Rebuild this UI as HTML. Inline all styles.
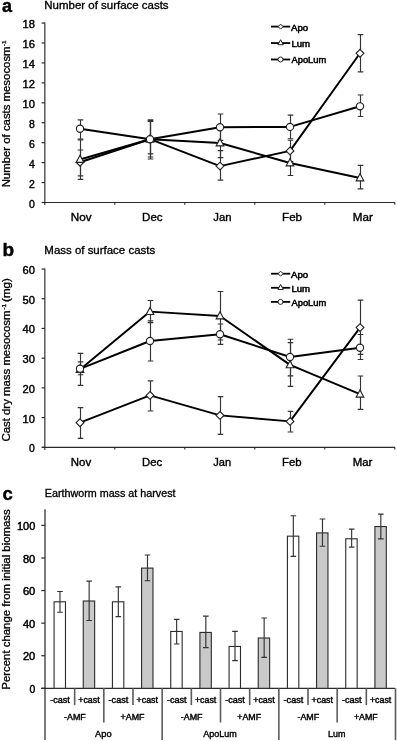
<!DOCTYPE html>
<html><head><meta charset="utf-8"><style>
html,body{margin:0;padding:0;background:#fff;width:397px;height:741px;overflow:hidden;}
body{position:relative;font-family:"Liberation Sans", sans-serif;}
</style></head><body>
<svg width="397" height="741" viewBox="0 0 397 741" style="position:absolute;left:0;top:0;filter:blur(0.3px);font-family:&quot;Liberation Sans&quot;, sans-serif"><rect width="397" height="741" fill="#fff"/><text x="1.9" y="11.8" font-size="18" font-weight="bold" stroke="#000" stroke-width="0.4">a</text><text x="44.35" y="8.80" font-size="10" textLength="124.20" lengthAdjust="spacingAndGlyphs" stroke="#000" stroke-width="0.3" >Number of surface casts</text><path d="M44.8 22.46V205.10" stroke="#505050" stroke-width="1.4" fill="none"/><path d="M42 202.50H395" stroke="#2a2a2a" stroke-width="1.2" fill="none"/><path d="M41.6 202.50H44.8" stroke="#2a2a2a" stroke-width="1.2"/><text x="29.10" y="207.50" font-size="10" textLength="5.80" lengthAdjust="spacingAndGlyphs" stroke="#000" stroke-width="0.4" >0</text><path d="M41.6 182.56H44.8" stroke="#2a2a2a" stroke-width="1.2"/><text x="29.10" y="187.56" font-size="10" textLength="5.80" lengthAdjust="spacingAndGlyphs" stroke="#000" stroke-width="0.4" >2</text><path d="M41.6 162.62H44.8" stroke="#2a2a2a" stroke-width="1.2"/><text x="29.10" y="167.62" font-size="10" textLength="5.80" lengthAdjust="spacingAndGlyphs" stroke="#000" stroke-width="0.4" >4</text><path d="M41.6 142.69H44.8" stroke="#2a2a2a" stroke-width="1.2"/><text x="29.10" y="147.69" font-size="10" textLength="5.80" lengthAdjust="spacingAndGlyphs" stroke="#000" stroke-width="0.4" >6</text><path d="M41.6 122.75H44.8" stroke="#2a2a2a" stroke-width="1.2"/><text x="29.10" y="127.75" font-size="10" textLength="5.80" lengthAdjust="spacingAndGlyphs" stroke="#000" stroke-width="0.4" >8</text><path d="M41.6 102.81H44.8" stroke="#2a2a2a" stroke-width="1.2"/><text x="22.50" y="107.81" font-size="10" textLength="12.40" lengthAdjust="spacingAndGlyphs" stroke="#000" stroke-width="0.4" >10</text><path d="M41.6 82.87H44.8" stroke="#2a2a2a" stroke-width="1.2"/><text x="22.50" y="87.87" font-size="10" textLength="12.40" lengthAdjust="spacingAndGlyphs" stroke="#000" stroke-width="0.4" >12</text><path d="M41.6 62.93H44.8" stroke="#2a2a2a" stroke-width="1.2"/><text x="22.50" y="67.93" font-size="10" textLength="12.40" lengthAdjust="spacingAndGlyphs" stroke="#000" stroke-width="0.4" >14</text><path d="M41.6 43.00H44.8" stroke="#2a2a2a" stroke-width="1.2"/><text x="22.50" y="48.00" font-size="10" textLength="12.40" lengthAdjust="spacingAndGlyphs" stroke="#000" stroke-width="0.4" >16</text><path d="M41.6 23.06H44.8" stroke="#2a2a2a" stroke-width="1.2"/><text x="22.50" y="28.06" font-size="10" textLength="12.40" lengthAdjust="spacingAndGlyphs" stroke="#000" stroke-width="0.4" >18</text><path d="M114.80 202.50V204.80" stroke="#2a2a2a" stroke-width="1.1"/><path d="M184.80 202.50V204.80" stroke="#2a2a2a" stroke-width="1.1"/><path d="M254.80 202.50V204.80" stroke="#2a2a2a" stroke-width="1.1"/><path d="M324.80 202.50V204.80" stroke="#2a2a2a" stroke-width="1.1"/><path d="M394.80 202.50V204.80" stroke="#2a2a2a" stroke-width="1.1"/><text x="70.77" y="220.60" font-size="10" textLength="20.75" lengthAdjust="spacingAndGlyphs" stroke="#000" stroke-width="0.35" >Nov</text><text x="142.08" y="220.60" font-size="10" textLength="20.45" lengthAdjust="spacingAndGlyphs" stroke="#000" stroke-width="0.35" >Dec</text><text x="213.28" y="220.60" font-size="10" textLength="18.25" lengthAdjust="spacingAndGlyphs" stroke="#000" stroke-width="0.35" >Jan</text><text x="282.08" y="220.60" font-size="10" textLength="19.95" lengthAdjust="spacingAndGlyphs" stroke="#000" stroke-width="0.35" >Feb</text><text x="352.78" y="220.60" font-size="10" textLength="20.05" lengthAdjust="spacingAndGlyphs" stroke="#000" stroke-width="0.35" >Mar</text><text transform="translate(10.00 187.35) rotate(-90)" x="0" y="0" font-size="10" textLength="140.90" lengthAdjust="spacingAndGlyphs" stroke="#000" stroke-width="0.3">Number of casts mesocosm</text><text transform="translate(5.7 46.2) rotate(-90)" font-size="6.2" textLength="5.6" lengthAdjust="spacingAndGlyphs" stroke="#000" stroke-width="0.3">-1</text><path d="M80.50 150.00V175.90M77.70 150.00H83.30M77.70 175.90H83.30" stroke="#333" stroke-width="1.15" fill="none"/><path d="M150.50 121.40V157.00M147.70 121.40H153.30M147.70 157.00H153.30" stroke="#333" stroke-width="1.15" fill="none"/><path d="M220.50 150.60V180.10M217.70 150.60H223.30M217.70 180.10H223.30" stroke="#333" stroke-width="1.15" fill="none"/><path d="M290.50 140.20V161.60M287.70 140.20H293.30M287.70 161.60H293.30" stroke="#333" stroke-width="1.15" fill="none"/><path d="M360.50 34.60V71.90M357.70 34.60H363.30M357.70 71.90H363.30" stroke="#333" stroke-width="1.15" fill="none"/><path d="M80.50 139.80V179.40M77.70 139.80H83.30M77.70 179.40H83.30" stroke="#333" stroke-width="1.15" fill="none"/><path d="M150.50 120.50V159.00M147.70 120.50H153.30M147.70 159.00H153.30" stroke="#333" stroke-width="1.15" fill="none"/><path d="M220.50 128.40V157.60M217.70 128.40H223.30M217.70 157.60H223.30" stroke="#333" stroke-width="1.15" fill="none"/><path d="M290.50 150.50V175.50M287.70 150.50H293.30M287.70 175.50H293.30" stroke="#333" stroke-width="1.15" fill="none"/><path d="M360.50 165.30V188.90M357.70 165.30H363.30M357.70 188.90H363.30" stroke="#333" stroke-width="1.15" fill="none"/><path d="M80.50 119.80V139.00M77.70 119.80H83.30M77.70 139.00H83.30" stroke="#333" stroke-width="1.15" fill="none"/><path d="M150.50 119.70V153.80M147.70 119.70H153.30M147.70 153.80H153.30" stroke="#333" stroke-width="1.15" fill="none"/><path d="M220.50 114.00V140.40M217.70 114.00H223.30M217.70 140.40H223.30" stroke="#333" stroke-width="1.15" fill="none"/><path d="M290.50 115.10V138.70M287.70 115.10H293.30M287.70 138.70H293.30" stroke="#333" stroke-width="1.15" fill="none"/><path d="M360.50 95.00V116.50M357.70 95.00H363.30M357.70 116.50H363.30" stroke="#333" stroke-width="1.15" fill="none"/><polyline points="80,162.2 150,139.2 220,166.1 290,150.9 360,53.3" fill="none" stroke="#000" stroke-width="1.95" stroke-linejoin="round"/><polyline points="80,159.5 150,139.2 220,143.0 290,163.0 360,178.0" fill="none" stroke="#000" stroke-width="1.95" stroke-linejoin="round"/><polyline points="80,128.7 150,139.2 220,127.2 290,126.9 360,106.3" fill="none" stroke="#000" stroke-width="1.95" stroke-linejoin="round"/><path d="M80.00 158.30L83.90 162.20L80.00 166.10L76.10 162.20Z" fill="#fff" stroke="#222" stroke-width="1.15"/><path d="M150.00 135.30L153.90 139.20L150.00 143.10L146.10 139.20Z" fill="#fff" stroke="#222" stroke-width="1.15"/><path d="M220.00 162.20L223.90 166.10L220.00 170.00L216.10 166.10Z" fill="#fff" stroke="#222" stroke-width="1.15"/><path d="M290.00 147.00L293.90 150.90L290.00 154.80L286.10 150.90Z" fill="#fff" stroke="#222" stroke-width="1.15"/><path d="M360.00 49.40L363.90 53.30L360.00 57.20L356.10 53.30Z" fill="#fff" stroke="#222" stroke-width="1.15"/><path d="M80.00 155.32L83.80 162.35L76.20 162.35Z" fill="#fff" stroke="#222" stroke-width="1.15"/><path d="M150.00 135.02L153.80 142.05L146.20 142.05Z" fill="#fff" stroke="#222" stroke-width="1.15"/><path d="M220.00 138.82L223.80 145.85L216.20 145.85Z" fill="#fff" stroke="#222" stroke-width="1.15"/><path d="M290.00 158.82L293.80 165.85L286.20 165.85Z" fill="#fff" stroke="#222" stroke-width="1.15"/><path d="M360.00 173.82L363.80 180.85L356.20 180.85Z" fill="#fff" stroke="#222" stroke-width="1.15"/><circle cx="80.00" cy="128.70" r="3.6" fill="#fff" stroke="#222" stroke-width="1.15"/><circle cx="150.00" cy="139.20" r="3.6" fill="#fff" stroke="#222" stroke-width="1.15"/><circle cx="220.00" cy="127.20" r="3.6" fill="#fff" stroke="#222" stroke-width="1.15"/><circle cx="290.00" cy="126.90" r="3.6" fill="#fff" stroke="#222" stroke-width="1.15"/><circle cx="360.00" cy="106.30" r="3.6" fill="#fff" stroke="#222" stroke-width="1.15"/><path d="M271 26.60H290.2" stroke="#000" stroke-width="1.8"/><path d="M280.60 24.10L283.10 26.60L280.60 29.10L278.10 26.60Z" fill="#fff" stroke="#222" stroke-width="1.0"/><text x="291.02" y="30.50" font-size="9" textLength="17.16" lengthAdjust="spacingAndGlyphs" stroke="#000" stroke-width="0.5" >Apo</text><path d="M271 43.05H290.2" stroke="#000" stroke-width="1.8"/><path d="M280.60 39.73L283.30 44.72L277.90 44.72Z" fill="#fff" stroke="#222" stroke-width="1.0"/><text x="291.42" y="46.95" font-size="9" textLength="18.66" lengthAdjust="spacingAndGlyphs" stroke="#000" stroke-width="0.5" >Lum</text><path d="M271 59.50H290.2" stroke="#000" stroke-width="1.8"/><circle cx="280.50" cy="59.50" r="2.5" fill="#fff" stroke="#222" stroke-width="1.0"/><text x="291.52" y="63.40" font-size="9" textLength="34.76" lengthAdjust="spacingAndGlyphs" stroke="#000" stroke-width="0.5" >ApoLum</text><text x="2.6" y="255.6" font-size="19" font-weight="bold" stroke="#000" stroke-width="0.4">b</text><text x="44.35" y="254.10" font-size="10" textLength="110.80" lengthAdjust="spacingAndGlyphs" stroke="#000" stroke-width="0.3" >Mass of surface casts</text><path d="M44.8 268.45V449.90" stroke="#505050" stroke-width="1.4" fill="none"/><path d="M42 447.30H395" stroke="#2a2a2a" stroke-width="1.2" fill="none"/><path d="M41.6 447.30H44.8" stroke="#2a2a2a" stroke-width="1.2"/><text x="29.10" y="452.30" font-size="10" textLength="5.80" lengthAdjust="spacingAndGlyphs" stroke="#000" stroke-width="0.4" >0</text><path d="M41.6 417.59H44.8" stroke="#2a2a2a" stroke-width="1.2"/><text x="22.50" y="422.59" font-size="10" textLength="12.40" lengthAdjust="spacingAndGlyphs" stroke="#000" stroke-width="0.4" >10</text><path d="M41.6 387.88H44.8" stroke="#2a2a2a" stroke-width="1.2"/><text x="22.50" y="392.88" font-size="10" textLength="12.40" lengthAdjust="spacingAndGlyphs" stroke="#000" stroke-width="0.4" >20</text><path d="M41.6 358.17H44.8" stroke="#2a2a2a" stroke-width="1.2"/><text x="22.50" y="363.17" font-size="10" textLength="12.40" lengthAdjust="spacingAndGlyphs" stroke="#000" stroke-width="0.4" >30</text><path d="M41.6 328.46H44.8" stroke="#2a2a2a" stroke-width="1.2"/><text x="22.50" y="333.46" font-size="10" textLength="12.40" lengthAdjust="spacingAndGlyphs" stroke="#000" stroke-width="0.4" >40</text><path d="M41.6 298.75H44.8" stroke="#2a2a2a" stroke-width="1.2"/><text x="22.50" y="303.75" font-size="10" textLength="12.40" lengthAdjust="spacingAndGlyphs" stroke="#000" stroke-width="0.4" >50</text><path d="M41.6 269.04H44.8" stroke="#2a2a2a" stroke-width="1.2"/><text x="22.50" y="274.04" font-size="10" textLength="12.40" lengthAdjust="spacingAndGlyphs" stroke="#000" stroke-width="0.4" >60</text><path d="M114.80 447.30V449.60" stroke="#2a2a2a" stroke-width="1.1"/><path d="M184.80 447.30V449.60" stroke="#2a2a2a" stroke-width="1.1"/><path d="M254.80 447.30V449.60" stroke="#2a2a2a" stroke-width="1.1"/><path d="M324.80 447.30V449.60" stroke="#2a2a2a" stroke-width="1.1"/><path d="M394.80 447.30V449.60" stroke="#2a2a2a" stroke-width="1.1"/><text x="70.77" y="466.00" font-size="10" textLength="20.35" lengthAdjust="spacingAndGlyphs" stroke="#000" stroke-width="0.35" >Nov</text><text x="142.08" y="466.00" font-size="10" textLength="20.05" lengthAdjust="spacingAndGlyphs" stroke="#000" stroke-width="0.35" >Dec</text><text x="213.28" y="466.00" font-size="10" textLength="17.85" lengthAdjust="spacingAndGlyphs" stroke="#000" stroke-width="0.35" >Jan</text><text x="282.08" y="466.00" font-size="10" textLength="19.55" lengthAdjust="spacingAndGlyphs" stroke="#000" stroke-width="0.35" >Feb</text><text x="352.78" y="466.00" font-size="10" textLength="19.65" lengthAdjust="spacingAndGlyphs" stroke="#000" stroke-width="0.35" >Mar</text><text transform="translate(10.10 441.55) rotate(-90)" x="0" y="0" font-size="10" textLength="131.00" lengthAdjust="spacingAndGlyphs" stroke="#000" stroke-width="0.3">Cast dry mass mesocosm</text><text transform="translate(5.7 309.7) rotate(-90)" font-size="6.2" textLength="5.8" lengthAdjust="spacingAndGlyphs" stroke="#000" stroke-width="0.3">-1</text><text transform="translate(10.10 301.95) rotate(-90)" x="0" y="0" font-size="10" textLength="23.80" lengthAdjust="spacingAndGlyphs" stroke="#000" stroke-width="0.3">(mg)</text><path d="M80.50 407.60V438.30M77.70 407.60H83.30M77.70 438.30H83.30" stroke="#333" stroke-width="1.15" fill="none"/><path d="M150.50 380.90V411.00M147.70 380.90H153.30M147.70 411.00H153.30" stroke="#333" stroke-width="1.15" fill="none"/><path d="M220.50 396.60V434.30M217.70 396.60H223.30M217.70 434.30H223.30" stroke="#333" stroke-width="1.15" fill="none"/><path d="M290.50 411.40V432.00M287.70 411.40H293.30M287.70 432.00H293.30" stroke="#333" stroke-width="1.15" fill="none"/><path d="M360.50 300.10V354.40M357.70 300.10H363.30M357.70 354.40H363.30" stroke="#333" stroke-width="1.15" fill="none"/><path d="M80.50 353.40V385.30M77.70 353.40H83.30M77.70 385.30H83.30" stroke="#333" stroke-width="1.15" fill="none"/><path d="M150.50 300.50V322.60M147.70 300.50H153.30M147.70 322.60H153.30" stroke="#333" stroke-width="1.15" fill="none"/><path d="M220.50 291.50V340.00M217.70 291.50H223.30M217.70 340.00H223.30" stroke="#333" stroke-width="1.15" fill="none"/><path d="M290.50 342.60V386.40M287.70 342.60H293.30M287.70 386.40H293.30" stroke="#333" stroke-width="1.15" fill="none"/><path d="M360.50 376.00V409.30M357.70 376.00H363.30M357.70 409.30H363.30" stroke="#333" stroke-width="1.15" fill="none"/><path d="M80.50 361.90V374.70M77.70 361.90H83.30M77.70 374.70H83.30" stroke="#333" stroke-width="1.15" fill="none"/><path d="M150.50 320.80V361.00M147.70 320.80H153.30M147.70 361.00H153.30" stroke="#333" stroke-width="1.15" fill="none"/><path d="M220.50 324.00V344.40M217.70 324.00H223.30M217.70 344.40H223.30" stroke="#333" stroke-width="1.15" fill="none"/><path d="M290.50 339.20V375.80M287.70 339.20H293.30M287.70 375.80H293.30" stroke="#333" stroke-width="1.15" fill="none"/><path d="M360.50 334.50V359.50M357.70 334.50H363.30M357.70 359.50H363.30" stroke="#333" stroke-width="1.15" fill="none"/><polyline points="80,422.7 150,395.4 220,415.4 290,421.4 360,327.6" fill="none" stroke="#000" stroke-width="1.95" stroke-linejoin="round"/><polyline points="80,369.5 150,311.6 220,316.0 290,364.9 360,394.2" fill="none" stroke="#000" stroke-width="1.95" stroke-linejoin="round"/><polyline points="80,368.8 150,341.0 220,334.2 290,357.0 360,347.8" fill="none" stroke="#000" stroke-width="1.95" stroke-linejoin="round"/><path d="M80.00 418.80L83.90 422.70L80.00 426.60L76.10 422.70Z" fill="#fff" stroke="#222" stroke-width="1.15"/><path d="M150.00 391.50L153.90 395.40L150.00 399.30L146.10 395.40Z" fill="#fff" stroke="#222" stroke-width="1.15"/><path d="M220.00 411.50L223.90 415.40L220.00 419.30L216.10 415.40Z" fill="#fff" stroke="#222" stroke-width="1.15"/><path d="M290.00 417.50L293.90 421.40L290.00 425.30L286.10 421.40Z" fill="#fff" stroke="#222" stroke-width="1.15"/><path d="M360.00 323.70L363.90 327.60L360.00 331.50L356.10 327.60Z" fill="#fff" stroke="#222" stroke-width="1.15"/><path d="M80.00 365.32L83.80 372.35L76.20 372.35Z" fill="#fff" stroke="#222" stroke-width="1.15"/><path d="M150.00 307.42L153.80 314.45L146.20 314.45Z" fill="#fff" stroke="#222" stroke-width="1.15"/><path d="M220.00 311.82L223.80 318.85L216.20 318.85Z" fill="#fff" stroke="#222" stroke-width="1.15"/><path d="M290.00 360.72L293.80 367.75L286.20 367.75Z" fill="#fff" stroke="#222" stroke-width="1.15"/><path d="M360.00 390.02L363.80 397.05L356.20 397.05Z" fill="#fff" stroke="#222" stroke-width="1.15"/><circle cx="80.00" cy="368.80" r="3.6" fill="#fff" stroke="#222" stroke-width="1.15"/><circle cx="150.00" cy="341.00" r="3.6" fill="#fff" stroke="#222" stroke-width="1.15"/><circle cx="220.00" cy="334.20" r="3.6" fill="#fff" stroke="#222" stroke-width="1.15"/><circle cx="290.00" cy="357.00" r="3.6" fill="#fff" stroke="#222" stroke-width="1.15"/><circle cx="360.00" cy="347.80" r="3.6" fill="#fff" stroke="#222" stroke-width="1.15"/><path d="M271 273.70H290.2" stroke="#000" stroke-width="1.8"/><path d="M280.60 271.20L283.10 273.70L280.60 276.20L278.10 273.70Z" fill="#fff" stroke="#222" stroke-width="1.0"/><text x="291.02" y="277.60" font-size="9" textLength="17.16" lengthAdjust="spacingAndGlyphs" stroke="#000" stroke-width="0.5" >Apo</text><path d="M271 287.80H290.2" stroke="#000" stroke-width="1.8"/><path d="M280.60 284.48L283.30 289.47L277.90 289.47Z" fill="#fff" stroke="#222" stroke-width="1.0"/><text x="291.42" y="291.70" font-size="9" textLength="18.66" lengthAdjust="spacingAndGlyphs" stroke="#000" stroke-width="0.5" >Lum</text><path d="M271 301.90H290.2" stroke="#000" stroke-width="1.8"/><circle cx="280.50" cy="301.90" r="2.5" fill="#fff" stroke="#222" stroke-width="1.0"/><text x="291.52" y="305.80" font-size="9" textLength="34.76" lengthAdjust="spacingAndGlyphs" stroke="#000" stroke-width="0.5" >ApoLum</text><text x="2.4" y="499.5" font-size="18.5" font-weight="bold" stroke="#000" stroke-width="0.4">c</text><text x="44.75" y="497.00" font-size="10" textLength="130.80" lengthAdjust="spacingAndGlyphs" stroke="#000" stroke-width="0.3" >Earthworm mass at harvest</text><path d="M45.0 509.3V740" stroke="#5c5c5c" stroke-width="1.6" fill="none"/><path d="M41.3 688.3H395" stroke="#2a2a2a" stroke-width="1.2" fill="none"/><path d="M41.3 688.30H44.9" stroke="#2a2a2a" stroke-width="1.2"/><text x="29.52" y="692.90" font-size="10" textLength="5.75" lengthAdjust="spacingAndGlyphs" stroke="#000" stroke-width="0.45" >0</text><path d="M41.3 655.72H44.9" stroke="#2a2a2a" stroke-width="1.2"/><text x="22.93" y="660.32" font-size="10" textLength="12.35" lengthAdjust="spacingAndGlyphs" stroke="#000" stroke-width="0.45" >20</text><path d="M41.3 623.14H44.9" stroke="#2a2a2a" stroke-width="1.2"/><text x="22.93" y="627.74" font-size="10" textLength="12.35" lengthAdjust="spacingAndGlyphs" stroke="#000" stroke-width="0.45" >40</text><path d="M41.3 590.56H44.9" stroke="#2a2a2a" stroke-width="1.2"/><text x="22.93" y="595.16" font-size="10" textLength="12.35" lengthAdjust="spacingAndGlyphs" stroke="#000" stroke-width="0.45" >60</text><path d="M41.3 557.98H44.9" stroke="#2a2a2a" stroke-width="1.2"/><text x="22.93" y="562.58" font-size="10" textLength="12.35" lengthAdjust="spacingAndGlyphs" stroke="#000" stroke-width="0.45" >80</text><path d="M41.3 525.40H44.9" stroke="#2a2a2a" stroke-width="1.2"/><text x="17.02" y="530.00" font-size="10" textLength="18.25" lengthAdjust="spacingAndGlyphs" stroke="#000" stroke-width="0.45" >100</text><text transform="translate(9.60 689.65) rotate(-90)" x="0" y="0" font-size="10" textLength="180.40" lengthAdjust="spacingAndGlyphs" stroke="#000" stroke-width="0.3">Percent change from initial biomass</text><rect x="54.08" y="601.81" width="11.4" height="86.49" fill="#fff" stroke="#2a2a2a" stroke-width="1.1"/><rect x="83.25" y="601.00" width="11.4" height="87.30" fill="#c9c9c9" stroke="#2a2a2a" stroke-width="1.1"/><rect x="112.42" y="601.81" width="11.4" height="86.49" fill="#fff" stroke="#2a2a2a" stroke-width="1.1"/><rect x="141.58" y="568.09" width="11.4" height="120.21" fill="#c9c9c9" stroke="#2a2a2a" stroke-width="1.1"/><rect x="170.75" y="631.46" width="11.4" height="56.84" fill="#fff" stroke="#2a2a2a" stroke-width="1.1"/><rect x="199.92" y="632.44" width="11.4" height="55.86" fill="#c9c9c9" stroke="#2a2a2a" stroke-width="1.1"/><rect x="229.08" y="646.45" width="11.4" height="41.85" fill="#fff" stroke="#2a2a2a" stroke-width="1.1"/><rect x="258.25" y="637.98" width="11.4" height="50.32" fill="#c9c9c9" stroke="#2a2a2a" stroke-width="1.1"/><rect x="287.42" y="536.16" width="11.4" height="152.14" fill="#fff" stroke="#2a2a2a" stroke-width="1.1"/><rect x="316.58" y="532.90" width="11.4" height="155.40" fill="#c9c9c9" stroke="#2a2a2a" stroke-width="1.1"/><rect x="345.75" y="538.77" width="11.4" height="149.53" fill="#fff" stroke="#2a2a2a" stroke-width="1.1"/><rect x="374.92" y="526.55" width="11.4" height="161.75" fill="#c9c9c9" stroke="#2a2a2a" stroke-width="1.1"/><path d="M59.98 591.45V612.23M57.18 591.45H62.78M57.18 612.23H62.78" stroke="#333" stroke-width="1.15" fill="none"/><path d="M89.15 581.19V620.53M86.35 581.19H91.95M86.35 620.53H91.95" stroke="#333" stroke-width="1.15" fill="none"/><path d="M118.32 586.89V616.62M115.52 586.89H121.12M115.52 616.62H121.12" stroke="#333" stroke-width="1.15" fill="none"/><path d="M147.48 554.96V580.79M144.68 554.96H150.28M144.68 580.79H150.28" stroke="#333" stroke-width="1.15" fill="none"/><path d="M176.65 619.30V643.99M173.85 619.30H179.45M173.85 643.99H179.45" stroke="#333" stroke-width="1.15" fill="none"/><path d="M205.82 616.05V647.57M203.02 616.05H208.62M203.02 647.57H208.62" stroke="#333" stroke-width="1.15" fill="none"/><path d="M234.98 631.36V660.61M232.18 631.36H237.78M232.18 660.61H237.78" stroke="#333" stroke-width="1.15" fill="none"/><path d="M264.15 618.00V657.35M261.35 618.00H266.95M261.35 657.35H266.95" stroke="#333" stroke-width="1.15" fill="none"/><path d="M293.32 515.70V556.35M290.52 515.70H296.12M290.52 556.35H296.12" stroke="#333" stroke-width="1.15" fill="none"/><path d="M322.48 518.96V546.25M319.68 518.96H325.28M319.68 546.25H325.28" stroke="#333" stroke-width="1.15" fill="none"/><path d="M351.65 529.06V547.07M348.85 529.06H354.45M348.85 547.07H354.45" stroke="#333" stroke-width="1.15" fill="none"/><path d="M380.82 514.07V538.92M378.02 514.07H383.62M378.02 538.92H383.62" stroke="#333" stroke-width="1.15" fill="none"/><path d="M74.67 688.3V705.1" stroke="#5c5c5c" stroke-width="1.6"/><path d="M103.83 688.3V722.5" stroke="#5c5c5c" stroke-width="1.6"/><path d="M133.00 688.3V705.1" stroke="#5c5c5c" stroke-width="1.6"/><path d="M162.17 688.3V740" stroke="#5c5c5c" stroke-width="1.6"/><path d="M191.33 688.3V705.1" stroke="#5c5c5c" stroke-width="1.6"/><path d="M220.50 688.3V722.5" stroke="#5c5c5c" stroke-width="1.6"/><path d="M249.67 688.3V705.1" stroke="#5c5c5c" stroke-width="1.6"/><path d="M278.83 688.3V740" stroke="#5c5c5c" stroke-width="1.6"/><path d="M308.00 688.3V705.1" stroke="#5c5c5c" stroke-width="1.6"/><path d="M337.17 688.3V722.5" stroke="#5c5c5c" stroke-width="1.6"/><path d="M366.33 688.3V705.1" stroke="#5c5c5c" stroke-width="1.6"/><path d="M395.50 688.3V740" stroke="#5c5c5c" stroke-width="1.6"/><text x="50.26" y="702.80" font-size="8.2" textLength="19.65" lengthAdjust="spacingAndGlyphs" stroke="#000" stroke-width="0.4" >-cast</text><text x="78.28" y="702.80" font-size="8.2" textLength="21.35" lengthAdjust="spacingAndGlyphs" stroke="#000" stroke-width="0.4" >+cast</text><text x="108.59" y="702.80" font-size="8.2" textLength="19.65" lengthAdjust="spacingAndGlyphs" stroke="#000" stroke-width="0.4" >-cast</text><text x="136.61" y="702.80" font-size="8.2" textLength="21.35" lengthAdjust="spacingAndGlyphs" stroke="#000" stroke-width="0.4" >+cast</text><text x="166.93" y="702.80" font-size="8.2" textLength="19.65" lengthAdjust="spacingAndGlyphs" stroke="#000" stroke-width="0.4" >-cast</text><text x="194.94" y="702.80" font-size="8.2" textLength="21.35" lengthAdjust="spacingAndGlyphs" stroke="#000" stroke-width="0.4" >+cast</text><text x="225.26" y="702.80" font-size="8.2" textLength="19.65" lengthAdjust="spacingAndGlyphs" stroke="#000" stroke-width="0.4" >-cast</text><text x="253.28" y="702.80" font-size="8.2" textLength="21.35" lengthAdjust="spacingAndGlyphs" stroke="#000" stroke-width="0.4" >+cast</text><text x="283.59" y="702.80" font-size="8.2" textLength="19.65" lengthAdjust="spacingAndGlyphs" stroke="#000" stroke-width="0.4" >-cast</text><text x="311.61" y="702.80" font-size="8.2" textLength="21.35" lengthAdjust="spacingAndGlyphs" stroke="#000" stroke-width="0.4" >+cast</text><text x="341.93" y="702.80" font-size="8.2" textLength="19.65" lengthAdjust="spacingAndGlyphs" stroke="#000" stroke-width="0.4" >-cast</text><text x="369.94" y="702.80" font-size="8.2" textLength="21.35" lengthAdjust="spacingAndGlyphs" stroke="#000" stroke-width="0.4" >+cast</text><text x="64.14" y="719.80" font-size="8.2" textLength="21.65" lengthAdjust="spacingAndGlyphs" stroke="#000" stroke-width="0.4" >-AMF</text><text x="120.63" y="719.80" font-size="8.2" textLength="23.75" lengthAdjust="spacingAndGlyphs" stroke="#000" stroke-width="0.4" >+AMF</text><text x="180.81" y="719.80" font-size="8.2" textLength="21.65" lengthAdjust="spacingAndGlyphs" stroke="#000" stroke-width="0.4" >-AMF</text><text x="237.29" y="719.80" font-size="8.2" textLength="23.75" lengthAdjust="spacingAndGlyphs" stroke="#000" stroke-width="0.4" >+AMF</text><text x="297.48" y="719.80" font-size="8.2" textLength="21.65" lengthAdjust="spacingAndGlyphs" stroke="#000" stroke-width="0.4" >-AMF</text><text x="353.96" y="719.80" font-size="8.2" textLength="23.75" lengthAdjust="spacingAndGlyphs" stroke="#000" stroke-width="0.4" >+AMF</text><text x="95.08" y="736.50" font-size="8.2" textLength="16.50" lengthAdjust="spacingAndGlyphs" stroke="#000" stroke-width="0.35" >Apo</text><text x="203.20" y="736.50" font-size="8.2" textLength="33.60" lengthAdjust="spacingAndGlyphs" stroke="#000" stroke-width="0.35" >ApoLum</text><text x="327.97" y="736.50" font-size="8.2" textLength="17.40" lengthAdjust="spacingAndGlyphs" stroke="#000" stroke-width="0.35" >Lum</text></svg>
</body></html>
